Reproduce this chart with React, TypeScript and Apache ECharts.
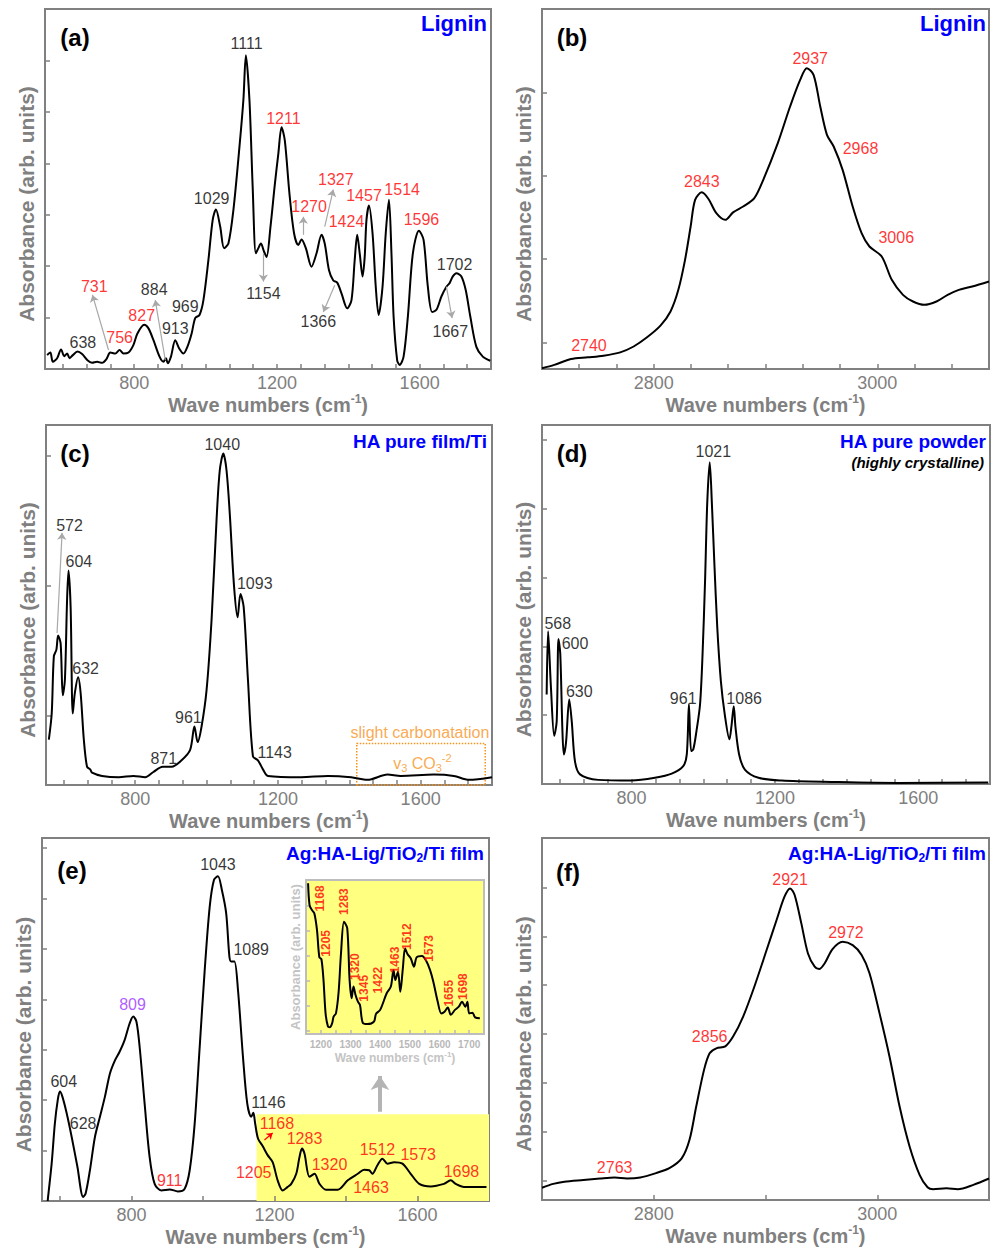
import React, { useEffect, useRef } from 'react';
import * as echarts from 'echarts';

// ---------------- DATA (wavenumber cm-1, absorbance arb. units) ----------------
const ligninFP: [number, number][] = [[556,0.27],[565,0.32],[572,0.14],[584,0.21],[595,0.38],[604,0.25],[612,0.30],[619,0.21],[628,0.27],[641,0.34],[654,0.29],[669,0.17],[682,0.12],[696,0.14],[710,0.12],[722,0.19],[733,0.32],[747,0.30],[759,0.37],[770,0.30],[784,0.32],[798,0.47],[809,0.69],[828,0.86],[840,0.79],[854,0.56],[871,0.24],[882,0.14],[889,0.21],[894,0.11],[903,0.24],[915,0.56],[926,0.40],[938,0.30],[949,0.43],[961,0.69],[971,0.99],[983,1.05],[994,1.34],[1008,2.12],[1020,2.90],[1029,3.10],[1041,2.77],[1052,2.35],[1064,2.44],[1078,3.09],[1095,4.32],[1106,5.23],[1113,6.10],[1123,5.23],[1132,3.55],[1141,2.25],[1148,2.35],[1155,2.44],[1164,2.28],[1171,2.18],[1182,2.77],[1194,3.58],[1204,4.19],[1213,4.70],[1222,4.45],[1235,3.42],[1248,2.64],[1260,2.41],[1269,2.52],[1281,2.35],[1297,1.99],[1311,2.25],[1325,2.61],[1334,2.44],[1346,1.92],[1358,1.72],[1369,1.68],[1381,1.47],[1397,1.18],[1409,1.34],[1418,2.12],[1425,2.61],[1432,2.25],[1440,1.80],[1446,2.18],[1451,2.90],[1458,3.18],[1468,2.64],[1477,1.60],[1485,1.05],[1496,1.60],[1505,2.64],[1514,3.29],[1521,2.25],[1527,1.02],[1537,0.17],[1544,0.08],[1555,0.24],[1567,1.02],[1581,2.25],[1598,2.69],[1611,2.51],[1623,1.60],[1635,1.11],[1647,1.15],[1661,1.41],[1675,1.60],[1684,1.67],[1693,1.80],[1703,1.86],[1717,1.80],[1729,1.54],[1742,1.02],[1759,0.43],[1777,0.24],[1798,0.16]];

const ligninCH: [number, number][] = [[2700,0.01],[2711,0.05],[2726,0.12],[2741,0.14],[2755,0.16],[2770,0.20],[2782,0.27],[2794,0.38],[2806,0.52],[2815,0.69],[2822,0.95],[2828,1.31],[2833,1.71],[2837,2.03],[2843,2.12],[2849,2.04],[2856,1.87],[2864,1.79],[2871,1.88],[2880,1.95],[2890,2.05],[2898,2.27],[2911,2.71],[2922,3.15],[2931,3.47],[2937,3.61],[2943,3.53],[2949,3.15],[2955,2.81],[2961,2.67],[2969,2.39],[2978,1.95],[2986,1.63],[2993,1.47],[3004,1.35],[3013,1.07],[3023,0.89],[3032,0.81],[3042,0.77],[3053,0.81],[3063,0.89],[3073,0.95],[3085,0.99],[3100,1.05]];

const haFilm: [number, number][] = [[558,0.35],[566,0.55],[572,0.99],[579,1.04],[584,1.15],[591,1.09],[597,0.69],[603,0.81],[609,1.42],[613,1.65],[619,1.37],[625,0.55],[631,0.71],[640,0.83],[647,0.71],[656,0.35],[665,0.14],[674,0.12],[679,0.095],[707,0.07],[754,0.06],[795,0.07],[828,0.06],[851,0.10],[877,0.14],[902,0.14],[930,0.19],[954,0.27],[966,0.45],[975,0.33],[986,0.45],[1000,0.73],[1014,1.27],[1028,2.04],[1037,2.42],[1047,2.55],[1056,2.42],[1065,2.09],[1077,1.53],[1087,1.29],[1095,1.47],[1104,1.37],[1116,0.81],[1130,0.22],[1144,0.19],[1158,0.12],[1172,0.07],[1265,0.06],[1340,0.07],[1405,0.06],[1451,0.04],[1507,0.08],[1544,0.07],[1637,0.08],[1693,0.07],[1735,0.04],[1800,0.06]];

const haPowder: [number, number][] = [[563,1.30],[567,2.22],[575,1.40],[584,0.70],[591,0.91],[596,2.11],[601,1.89],[607,0.77],[611,0.43],[617,0.60],[626,1.23],[633,0.91],[642,0.33],[656,0.14],[707,0.06],[800,0.05],[865,0.09],[912,0.15],[944,0.26],[954,0.43],[960,1.16],[966,0.48],[972,0.50],[981,0.77],[991,1.16],[998,1.89],[1005,2.96],[1011,4.08],[1018,4.68],[1024,4.08],[1031,3.20],[1039,2.28],[1049,1.50],[1060,1.01],[1073,0.65],[1079,0.86],[1085,1.13],[1090,0.82],[1100,0.43],[1116,0.21],[1154,0.09],[1219,0.05],[1358,0.03],[1544,0.015],[1795,0.02]];

const agFilmFP: [number, number][] = [[566,0.0],[567,0.08],[577,0.74],[586,1.54],[594,2.0],[600,2.17],[607,2.07],[619,1.74],[633,1.27],[649,0.68],[665,0.08],[672,0.15],[684,0.61],[698,1.27],[712,1.67],[726,2.07],[740,2.53],[754,2.79],[767,2.96],[781,3.19],[795,3.52],[805,3.66],[814,3.56],[823,3.06],[837,1.93],[851,0.87],[865,0.34],[884,0.21],[907,0.23],[930,0.19],[949,0.245],[963,0.61],[977,1.54],[991,3.06],[1005,4.58],[1019,5.84],[1031,6.37],[1042,6.44],[1053,6.17],[1065,5.71],[1074,4.85],[1079,4.75],[1088,4.75],[1098,4.19],[1112,2.86],[1124,1.93],[1135,1.67],[1141,1.75],[1146,1.54],[1154,1.24],[1167,1.09],[1181,0.91],[1195,0.77],[1209,0.41],[1223,0.21],[1237,0.28],[1247,0.34],[1261,0.54],[1270,0.87],[1277,1.04],[1284,0.94],[1298,0.48],[1312,0.54],[1326,0.34],[1344,0.225],[1377,0.225],[1405,0.41],[1433,0.54],[1451,0.62],[1465,0.61],[1474,0.54],[1488,0.71],[1502,0.84],[1516,0.74],[1535,0.77],[1558,0.74],[1581,0.54],[1605,0.34],[1637,0.29],[1674,0.34],[1693,0.41],[1707,0.34],[1730,0.28],[1793,0.28]];

const agFilmInset: [number, number][] = [[1157,6.07],[1162,5.19],[1170,4.99],[1178,4.86],[1187,4.19],[1195,3.09],[1202,3.01],[1209,2.17],[1216,0.83],[1224,0.30],[1230,0.27],[1238,0.43],[1243,0.70],[1251,0.83],[1260,1.70],[1268,3.25],[1278,4.52],[1289,4.26],[1297,2.17],[1304,1.44],[1310,1.91],[1317,1.57],[1325,1.30],[1332,1.17],[1341,0.46],[1357,0.40],[1379,0.50],[1386,0.81],[1400,0.97],[1422,1.64],[1436,1.91],[1445,2.58],[1451,2.17],[1460,2.51],[1468,1.70],[1476,2.58],[1484,3.45],[1492,3.22],[1503,3.05],[1514,2.71],[1523,3.09],[1541,3.14],[1555,2.95],[1568,2.58],[1579,2.11],[1594,1.30],[1606,0.83],[1617,0.90],[1628,1.07],[1638,0.77],[1652,0.97],[1665,1.10],[1676,1.30],[1687,1.10],[1694,1.30],[1700,0.83],[1711,0.86],[1720,0.67],[1736,0.63]];

const agFilmCH: [number, number][] = [[2700,0.25],[2710,0.33],[2720,0.375],[2737,0.41],[2752,0.44],[2765,0.46],[2776,0.44],[2788,0.46],[2802,0.55],[2814,0.65],[2825,0.85],[2832,1.23],[2838,1.91],[2845,2.66],[2850,3.00],[2856,3.10],[2864,3.14],[2871,3.34],[2880,3.75],[2890,4.36],[2901,5.11],[2910,5.73],[2917,6.20],[2922,6.37],[2926,6.24],[2932,5.66],[2938,5.04],[2944,4.77],[2948,4.72],[2953,4.84],[2960,5.13],[2969,5.28],[2978,5.21],[2986,5.01],[2993,4.64],[3002,3.82],[3011,2.93],[3020,1.91],[3029,1.09],[3038,0.51],[3045,0.26],[3050,0.22],[3062,0.24],[3072,0.22],[3086,0.31],[3100,0.44]];

// peak annotations: [text, wavenumber, absorbance, colour key]
const annA: [string, number, number, string][] = [['1111',1115,6.33,'k'],['1211',1218,4.87,'r'],['1029',1017,3.31,'k'],['1270',1290,3.16,'r'],['1327',1365,3.69,'r'],['1424',1395,2.86,'r'],['1457',1444,3.38,'r'],['1514',1551,3.49,'r'],['1596',1605,2.90,'r'],['1702',1698,2.04,'k'],['1667',1686,0.73,'k'],['1366',1316,0.92,'k'],['1154',1162,1.47,'k'],['731',688,1.61,'r'],['884',856,1.54,'k'],['969',943,1.22,'k'],['913',915,0.79,'k'],['827',821,1.05,'r'],['756',759,0.61,'r'],['638',656,0.51,'k']];
const arrowsA: [number, number][][] = [[[728,0.37],[683,1.44]],[[887,0.175],[859,1.34]],[[1162,2.25],[1162,1.70]],[[1274,2.61],[1274,2.96]],[[1334,2.77],[1358,3.49]],[[1362,1.63],[1330,1.11]],[[1675,1.60],[1691,0.99]]];
const annB: [string, number, number, string][] = [['2937',2940,3.73,'r'],['2843',2843,2.25,'r'],['2968',2985,2.65,'r'],['3006',3017,1.58,'r'],['2740',2742,0.28,'r']];
const annC: [string, number, number, string][] = [['1040',1044,2.62,'k'],['604',642,1.72,'k'],['572',616,2.0,'k'],['632',661,0.90,'k'],['1093',1135,1.55,'k'],['961',949,0.52,'k'],['871',880,0.205,'k'],['1143',1191,0.25,'k']];
const arrowsC: [number, number][][] = [[[581,1.17],[595,1.94]]];
const carbonNotes: [string, number, number][] = [['slight carbonatation',1598,0.405],['v{s|3} CO{s|3}{p|-2}',1605,0.167]];
const carbonBox: [number, number][] = [[1421,0],[1781,0.32]];
const annD: [string, number, number, string][] = [['1021',1028,4.83,'k'],['568',594,2.34,'k'],['600',642,2.04,'k'],['630',654,1.35,'k'],['961',944,1.25,'k'],['1086',1114,1.25,'k']];
const annE: [string, number, number, string][] = [['1043',1042,6.68,'k'],['1089',1135,4.99,'k'],['809',803,3.89,'p'],['604',611,2.38,'k'],['628',665,1.54,'k'],['911',907,0.41,'r'],['1146',1183,1.95,'k'],['1168',1207,1.54,'r'],['1283',1284,1.24,'r'],['1205',1142,0.56,'r'],['1320',1354,0.72,'r'],['1512',1488,1.02,'r'],['1573',1602,0.92,'r'],['1463',1470,0.26,'r'],['1698',1723,0.58,'r']];
const arrowsE: [number, number][][] = [[[1172,1.21],[1195,1.35]]];
const bigArrowE: [number, number][] = [[1495,1.77],[1495,2.48]];
const highlightE: [number, number][] = [[1150,0],[1800,1.72]];
const annInset: [string, number, number, string][] = [['1168',1198,5.46,'r'],['1205',1216,3.65,'r'],['1283',1278,5.33,'r'],['1320',1314,2.71,'r'],['1345',1346,1.84,'r'],['1422',1393,2.17,'r'],['1463',1451,2.98,'r'],['1512',1492,3.92,'r'],['1573',1563,3.45,'r'],['1655',1631,1.64,'r'],['1698',1680,1.91,'r']];
const annF: [string, number, number, string][] = [['2921',2922,6.56,'r'],['2972',2972,5.47,'r'],['2856',2850,3.34,'r'],['2763',2765,0.67,'r']];

const labelsFP = [800, 1200, 1600];
const labelsCH = [2800, 3000];
const labelsInset = [1200, 1300, 1400, 1500, 1600, 1700];

// ---------------- STYLE ----------------
const FONT = 'Arial, "Liberation Sans", sans-serif';
const GRAY = '#808080';
const COLORS: Record<string, string> = { k: '#000000', r: '#FF0000', p: '#9B30FF', o: '#F7941E' };
const BLUE = '#0000FF';

const steps = (a: number, b: number, s: number) => {
  const r: number[] = [];
  for (let v = a; v <= b + 1e-6; v += s) r.push(+v.toFixed(2));
  return r;
};

const grids = [
  { left: 45, top: 9, width: 446, height: 360 },
  { left: 542, top: 9, width: 447, height: 360 },
  { left: 46, top: 425, width: 446, height: 360 },
  { left: 542, top: 425, width: 448, height: 359 },
  { left: 42, top: 838, width: 447, height: 363 },
  { left: 542, top: 838, width: 447, height: 362 },
  { left: 306, top: 880, width: 178, height: 154 },
];

function xAx(i: number, min: number, max: number, ticks: number[], labels: number[], inset = false) {
  const c = inset ? '#b8b8b8' : GRAY;
  return {
    type: 'value', gridIndex: i, min, max,
    axisLine: { show: false }, splitLine: { show: false },
    axisTick: { show: true, inside: true, length: inset ? 4 : 5, customValues: ticks, lineStyle: { color: c, width: 1.5 } },
    axisLabel: { show: true, customValues: labels, formatter: (v: number) => String(v), color: c, fontSize: inset ? 10 : 18, fontWeight: inset ? 'bold' : 'normal', fontFamily: FONT, margin: inset ? 5 : 5 },
    name: 'Wave numbers (cm{sup|-1})', nameLocation: 'middle', nameGap: inset ? 16 : 24,
    nameTextStyle: {
      color: inset ? '#c4c4c4' : GRAY, fontSize: inset ? 12 : 20, fontWeight: 'bold', fontFamily: FONT,
      rich: { sup: { fontSize: inset ? 8 : 12, fontWeight: 'bold', fontFamily: FONT, color: inset ? '#c4c4c4' : GRAY, padding: [0, 0, inset ? 7 : 12, 0] } },
    },
  };
}
function yAx(i: number, max: number, ticks: number[], inset = false) {
  const c = inset ? '#b8b8b8' : GRAY;
  return {
    type: 'value', gridIndex: i, min: 0, max,
    axisLine: { show: false }, splitLine: { show: false },
    axisTick: { show: true, inside: true, length: inset ? 4 : 5, customValues: ticks, lineStyle: { color: c, width: 1.5 } },
    axisLabel: { show: false },
    name: 'Absorbance (arb. units)', nameLocation: 'middle', nameGap: inset ? 4 : 8, nameRotate: 90,
    nameTextStyle: { color: inset ? '#c4c4c4' : GRAY, fontSize: inset ? 13 : 21, fontWeight: 'bold', fontFamily: FONT, padding: inset ? 0 : [0, 30, 0, 0] },
  };
}

function curve(i: number, data: [number, number][], extra: any = {}) {
  return { type: 'line', xAxisIndex: i, yAxisIndex: i, data, showSymbol: false, symbol: 'none', smooth: 0.3, silent: true, z: 3, lineStyle: { color: '#000', width: 2 }, ...extra };
}
function notes(i: number, items: [string, number, number, string][], fontSize: number, arrows: [number, number][][] = [], extra: any = {}) {
  const s: any = {
    type: 'scatter', xAxisIndex: i, yAxisIndex: i, symbolSize: 1, silent: true, z: 5,
    itemStyle: { color: 'rgba(0,0,0,0)' },
    data: items.map(([t, x, y, c]) => ({ name: t, value: [x, y], label: { color: COLORS[c] } })),
    label: { show: true, position: 'inside', formatter: '{b}', fontSize, fontFamily: FONT, ...extra },
  };
  if (arrows.length) {
    s.markLine = {
      silent: true, symbol: ['none', 'arrow'], symbolSize: 7, label: { show: false },
      lineStyle: { color: '#a8a8a8', width: 1.2, type: 'solid' },
      data: arrows.map(([a, b]) => [{ coord: a }, { coord: b }]),
    };
  }
  return s;
}

const App: React.FC = () => {
  const ref = useRef<HTMLDivElement>(null);
  useEffect(() => {
    if (!ref.current) return;
    const chart = echarts.init(ref.current, null, { renderer: 'svg' });
    const tFP = steps(600, 1750, 200 / 3);
    const tCH = steps(2733.33, 3070, 100 / 3);

    const gridOpts = grids.map((g, i) => ({
      ...g, show: true, outerBoundsMode: 'none', containLabel: false,
      borderColor: i === 6 ? '#bdbdbd' : GRAY, borderWidth: 2,
      backgroundColor: i === 6 ? '#FFFF80' : 'transparent',
    }));

    const eNotes = notes(4, annE, 16);
    eNotes.markLine = {
      silent: true, symbol: ['none', 'arrow'], symbolSize: 6, label: { show: false },
      lineStyle: { color: '#FF0000', width: 1.2, type: 'solid' },
      data: arrowsE.map(([a, b]) => [{ coord: a }, { coord: b }]),
    };

    const option: any = {
      animation: false,
      grid: gridOpts,
      xAxis: [
        xAx(0, 550, 1800, tFP, labelsFP),
        xAx(1, 2700, 3100, tCH, labelsCH),
        xAx(2, 550, 1800, tFP, labelsFP),
        xAx(3, 550, 1800, tFP, labelsFP),
        xAx(4, 550, 1800, steps(600, 1600, 200), labelsFP),
        xAx(5, 2700, 3100, [2800, 2900, 3000], labelsCH),
        xAx(6, 1150, 1750, steps(1200, 1700, 50), labelsInset, true),
      ],
      yAxis: [
        yAx(0, 7, [1, 2, 3, 4, 5, 6]),
        yAx(1, 4.32, [0.32, 1.32, 2.32, 3.32]),
        yAx(2, 2.77, [0.536, 1.536, 2.536]),
        yAx(3, 5.22, [1, 2, 3, 4, 5]),
        yAx(4, 7.2, [1, 2, 3, 4, 5, 6, 7]),
        yAx(5, 7.4, [0.39, 1.39, 2.39, 3.39, 4.39, 5.39, 6.39]),
        yAx(6, 6.2, [0.15, 1.15, 2.15, 3.15, 4.15, 5.15], true),
      ],
      series: [
        curve(0, ligninFP),
        curve(1, ligninCH),
        curve(2, haFilm, {
          markArea: {
            silent: true,
            itemStyle: { color: 'rgba(0,0,0,0)', borderColor: COLORS.o, borderWidth: 1.5, borderType: 'dotted' },
            data: [[{ coord: carbonBox[0] }, { coord: carbonBox[1] }]],
          },
        }),
        curve(3, haPowder),
        curve(4, agFilmFP, {
          markArea: {
            silent: true, z: 0,
            itemStyle: { color: '#FFFF80' },
            data: [[{ coord: highlightE[0] }, { coord: highlightE[1] }]],
          },
          markLine: {
            silent: true, symbol: ['none', 'arrow'], symbolSize: [14, 14], label: { show: false },
            lineStyle: { color: '#b4b4b4', width: 4, type: 'solid' },
            data: [[{ coord: bigArrowE[0] }, { coord: bigArrowE[1] }]],
          },
        }),
        curve(5, agFilmCH),
        curve(6, agFilmInset),
        notes(0, annA, 16, arrowsA),
        notes(1, annB, 16),
        notes(2, annC, 16, arrowsC),
        {
          type: 'scatter', xAxisIndex: 2, yAxisIndex: 2, symbolSize: 1, silent: true, z: 5,
          itemStyle: { color: 'rgba(0,0,0,0)' },
          data: carbonNotes.map(([t, x, y]) => ({ name: t, value: [x, y] })),
          label: {
            show: true, position: 'inside', formatter: '{b}', fontSize: 16, fontFamily: FONT, color: COLORS.o,
            rich: {
              s: { fontSize: 11, fontFamily: FONT, color: COLORS.o, padding: [10, 0, 0, 0] },
              p: { fontSize: 11, fontFamily: FONT, color: COLORS.o, padding: [0, 0, 10, 0] },
            },
          },
        },
        notes(3, annD, 16),
        eNotes,
        notes(5, annF, 16),
        notes(6, annInset, 12, [], { rotate: 90, fontWeight: 'bold' }),
      ],
      graphic: [
        ...[['(a)', 75, 37], ['(b)', 572, 37], ['(c)', 75, 453], ['(d)', 572, 453], ['(e)', 72, 870], ['(f)', 568, 872]].map(([t, x, y]) => ({
          type: 'text', x, y, silent: true,
          style: { text: t, fill: '#000', fontSize: 24, fontWeight: 'bold', fontFamily: FONT, align: 'center', verticalAlign: 'middle' },
        })),
        ...[['Lignin', 487, 23, 22], ['Lignin', 986, 23, 22], ['HA pure film/Ti', 487, 441, 19], ['HA pure powder', 986, 441, 19],
          ['Ag:HA-Lig/TiO{sub|2}/Ti film', 484, 853, 19], ['Ag:HA-Lig/TiO{sub|2}/Ti film', 986, 853, 19]].map(([t, x, y, fs]) => ({
          type: 'text', x, y, silent: true,
          style: {
            text: t, fill: BLUE, fontSize: fs, fontWeight: 'bold', fontFamily: FONT, align: 'right', verticalAlign: 'middle',
            rich: { sub: { fill: BLUE, fontSize: 12, fontWeight: 'bold', fontFamily: FONT, padding: [9, 0, 0, 0] } },
          },
        })),
        {
          type: 'text', x: 984, y: 462, silent: true,
          style: { text: '(highly crystalline)', fill: '#000', fontSize: 15, fontWeight: 'bold', fontStyle: 'italic', fontFamily: FONT, align: 'right', verticalAlign: 'middle' },
        },
      ],
    };
    chart.setOption(option);
    return () => chart.dispose();
  }, []);
  return <div ref={ref} style={{ position: 'absolute', left: 0, top: 0, width: 1000, height: 1253, background: '#fff' }} />;
};

export default App;
